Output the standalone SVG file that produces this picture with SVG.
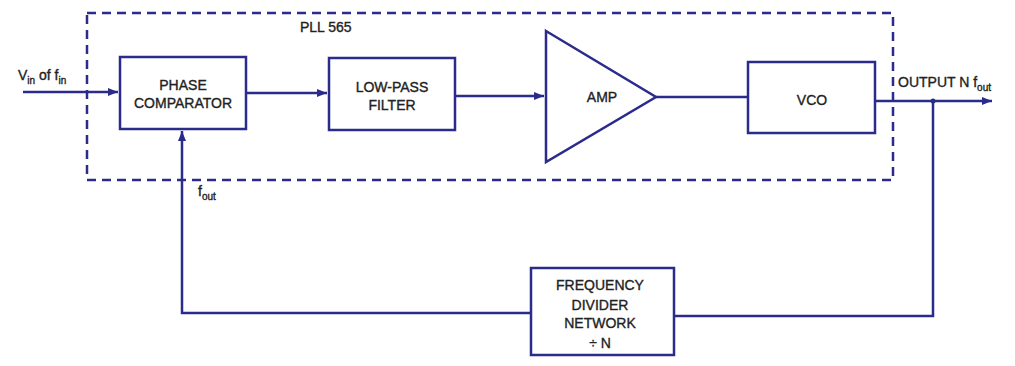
<svg xmlns="http://www.w3.org/2000/svg" width="1015" height="366" viewBox="0 0 1015 366">
<style>
.box{fill:#fff;stroke:#2b2b8c;stroke-width:2.5}
.ln{fill:none;stroke:#2b2b8c;stroke-width:2.5}
.dash{fill:none;stroke:#2b2b8c;stroke-width:2.5;stroke-dasharray:9 6}
.t{font-family:"Liberation Sans",Arial,sans-serif;font-size:14px;fill:#222;stroke:#222;stroke-width:0.35;text-anchor:middle}
.s{font-family:"Liberation Sans",Arial,sans-serif;font-size:10px;fill:#222}
.lbl{font-family:"Liberation Sans",Arial,sans-serif;font-size:14px;fill:#222;stroke:#222;stroke-width:0.35}
</style>
<defs>
<marker id="arr" viewBox="0 0 10 10" refX="10" refY="5" markerWidth="4" markerHeight="4" orient="auto">
<path d="M0,1 L10,5 L0,9 z" fill="#2b2b8c"/>
</marker>
</defs>
<rect width="1015" height="366" fill="#fff"/>
<g id="pll-boundary">
<rect class="dash" x="87" y="13" width="806" height="167"/>
<text class="lbl" x="300" y="32">PLL 565</text>
</g>
<g id="connectors">
<line class="ln" x1="23" y1="92" x2="118" y2="92" marker-end="url(#arr)"/>
<line class="ln" x1="246" y1="93" x2="327" y2="93" marker-end="url(#arr)"/>
<line class="ln" x1="455" y1="96" x2="544" y2="96" marker-end="url(#arr)"/>
<line class="ln" x1="656" y1="97" x2="748" y2="97"/>
<line class="ln" x1="875" y1="101" x2="992" y2="101" marker-end="url(#arr)"/>
<circle cx="933" cy="101" r="2.5" fill="#2b2b8c"/>
<polyline class="ln" points="933,101 933,316 674,316"/>
<polyline class="ln" points="531,313 182,313 182,131" marker-end="url(#arr)"/>
</g>
<g id="input-label">
<text class="lbl" x="18" y="80">V<tspan class="s" dy="4">in</tspan><tspan dy="-4"> of f</tspan><tspan class="s" dy="4">in</tspan></text>
</g>
<g id="fout-label">
<text class="lbl" x="198" y="196">f<tspan class="s" dy="4">out</tspan></text>
</g>
<g id="output-label">
<text class="lbl" x="898" y="87">OUTPUT  N f<tspan class="s" dy="4">out</tspan></text>
</g>
<g id="phase-comparator">
<rect class="box" x="120" y="57" width="126" height="72"/>
<text class="t" x="183" y="90">PHASE</text>
<text class="t" x="183" y="108">COMPARATOR</text>
</g>
<g id="low-pass-filter">
<rect class="box" x="329" y="58" width="126" height="72"/>
<text class="t" x="392" y="92">LOW-PASS</text>
<text class="t" x="392" y="110">FILTER</text>
</g>
<g id="amp">
<polygon class="box" points="546,31 656,97 546,162"/>
<text class="t" x="602" y="102">AMP</text>
</g>
<g id="vco">
<rect class="box" x="748" y="62" width="127" height="71"/>
<text class="t" x="812" y="105">VCO</text>
</g>
<g id="frequency-divider">
<rect class="box" x="531" y="268" width="143" height="87"/>
<text class="t" x="600" y="290">FREQUENCY</text>
<text class="t" x="600" y="310">DIVIDER</text>
<text class="t" x="600" y="328">NETWORK</text>
<text class="t" x="600" y="348">÷ N</text>
</g>
</svg>
